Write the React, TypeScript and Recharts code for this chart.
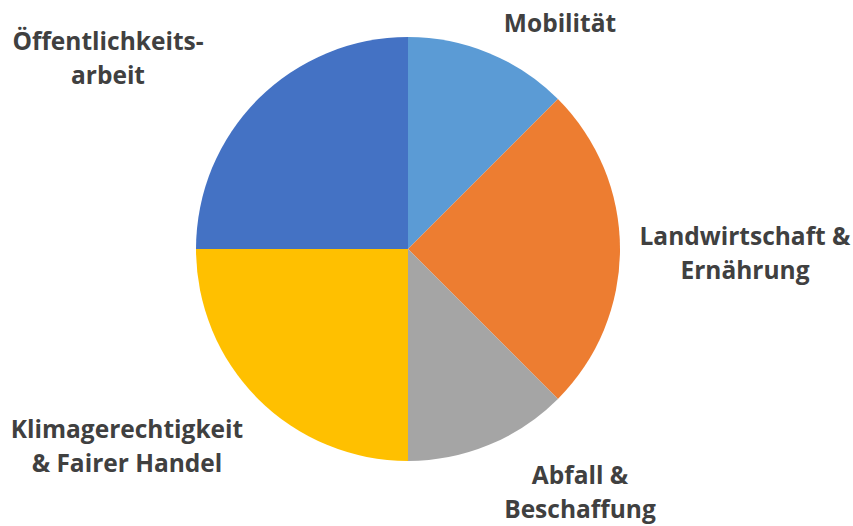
import React from "react";
import { PieChart, Pie, Cell } from "recharts";

const categories = [
  "Mobilität",
  "Landwirtschaft & Ernährung",
  "Abfall & Beschaffung",
  "Klimagerechtigkeit & Fairer Handel",
  "Öffentlichkeitsarbeit",
];
const values = [12.5, 25, 12.5, 25, 25];
const labelLines = [
  ["Mobilität"],
  ["Landwirtschaft &", "Ernährung"],
  ["Abfall &", "Beschaffung"],
  ["Klimagerechtigkeit", "& Fairer Handel"],
  ["Öffentlichkeits-", "arbeit"],
];
const colors = ["#5B9BD5", "#ED7D31", "#A5A5A5", "#FFC000", "#4472C4"];

const data = categories.map((name, i) => ({ name, value: values[i] }));

// label centre offsets relative to pie centre
const labelOffsets = [
  [152, -227],
  [337, 3],
  [172, 242],
  [-281, 196],
  [-300, -192],
];

const renderLabel = (props: any) => {
  const { cx, cy, index } = props;
  const [dx, dy] = labelOffsets[index];
  const lines = labelLines[index];
  const lh = 34;
  const x = cx + dx;
  const y0 = cy + dy - ((lines.length - 1) * lh) / 2;
  return (
    <text
      x={x}
      y={y0}
      textAnchor="middle"
      dominantBaseline="central"
      fill="#404040"
      fontFamily="'Open Sans', sans-serif"
      fontWeight="bold"
      fontSize={24.5}
    >
      {lines.map((l, i) => (
        <tspan key={i} x={x} y={y0 + i * lh} dominantBaseline="central">
          {l}
        </tspan>
      ))}
    </text>
  );
};

export default function App() {
  return (
    <div style={{ position: "absolute", left: 0, top: 0, width: 853, height: 526, background: "#fff" }}>
      <PieChart width={853} height={526} margin={{ top: 0, right: 0, bottom: 0, left: 0 }}>
        <Pie
          data={data}
          dataKey="value"
          nameKey="name"
          cx={408}
          cy={249}
          outerRadius={212}
          startAngle={90}
          endAngle={-270}
          stroke="none"
          label={renderLabel}
          labelLine={false}
          isAnimationActive={false}
        >
          {data.map((d, i) => (
            <Cell key={d.name} fill={colors[i]} />
          ))}
        </Pie>
      </PieChart>
    </div>
  );
}
